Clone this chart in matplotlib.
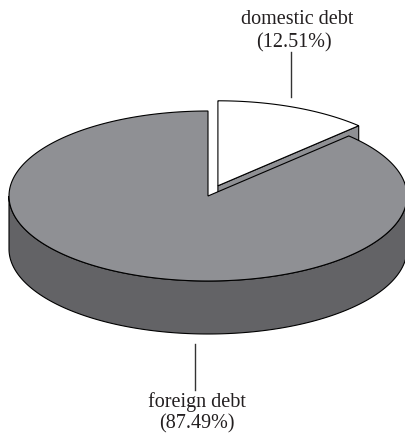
import numpy as np
import matplotlib
matplotlib.use("Agg")
import matplotlib.pyplot as plt
from matplotlib.patches import Polygon

labels = ["domestic debt", "foreign debt"]
shares = [12.51, 87.49]
explode = [0.13, 0.0]
top_colors = ["#ffffff", "#8f9094"]
side_colors = ["#8f9094", "#636366"]

W, H = 406, 435
fig = plt.figure(figsize=(W / 100, H / 100), dpi=100)
ax = fig.add_axes([0, 0, 1, 1])
ax.set_xlim(0, W)
ax.set_ylim(H, 0)
ax.axis("off")

cx, cy, a, b, depth = 208.0, 197.0, 199.0, 85.0, 53.0
serif = ["Liberation Serif", "DejaVu Serif"]


def pt(ang, ox, oy, dz=0.0):
    r = np.radians(ang)
    return (cx + ox + a * np.cos(r), cy + oy - b * np.sin(r) + dz)


# compute angle ranges: start at 90 deg, clockwise
total = sum(shares)
ranges = []
start = 90.0
for s in shares:
    span = 360.0 * s / total
    ranges.append((start - span, start))
    start -= span

# Draw slices from back to front: domestic (exploded, behind) first
order = [0, 1]
lw = 0.8
for i in order:
    lo, hi = ranges[i]
    mid = np.radians((lo + hi) / 2)
    ox = explode[i] * a * np.cos(mid)
    oy = -explode[i] * b * np.sin(mid)
    apex = (cx + ox, cy + oy)
    # radial face at 'lo' angle (visible if it faces front)
    if i == 0:
        p1 = pt(lo, ox, oy)
        face = [apex, p1, (p1[0], p1[1] + depth), (apex[0], apex[1] + depth)]
        ax.add_patch(Polygon(face, closed=True, fc=side_colors[i], ec="black", lw=lw, zorder=1 + i * 3))
    # outer wall - front half only
    lo_w = max(lo, 180.0) if hi > 180 else lo
    angs = np.linspace(180.0, 360.0, 200) if (lo <= 180 and hi >= 360) or (lo <= -180) else None
    if i == 1:
        angs = np.linspace(180.0, 360.0, 200)
        topr = [pt(t, ox, oy) for t in angs]
        botr = [pt(t, ox, oy, depth) for t in angs[::-1]]
        ax.add_patch(Polygon(topr + botr, closed=True, fc=side_colors[i], ec="black", lw=lw, zorder=2 + i * 3))
    # top face
    arc = np.linspace(lo, hi, 300)
    poly = [apex] + [pt(t, ox, oy) for t in arc]
    ax.add_patch(Polygon(poly, closed=True, fc=top_colors[i], ec="black", lw=lw, zorder=3 + i * 3))

# labels
ax.plot([291.5, 291.5], [53, 98], color="#333333", lw=1.0, zorder=10)
ax.text(297, 19, labels[0], ha="center", va="center", fontsize=14.5, family=serif, color="#231f20")
ax.text(294, 43, "(%.2f%%)" % shares[0], ha="center", va="center", fontsize=14.5, family=serif, color="#231f20")

ax.plot([195, 195], [345, 391], color="#333333", lw=1.0, zorder=10)
ax.text(197, 402, labels[1], ha="center", va="center", fontsize=14.5, family=serif, color="#231f20")
ax.text(197, 424, "(%.2f%%)" % shares[1], ha="center", va="center", fontsize=14.5, family=serif, color="#231f20")

fig.savefig("out.png", dpi=100, facecolor="white")
